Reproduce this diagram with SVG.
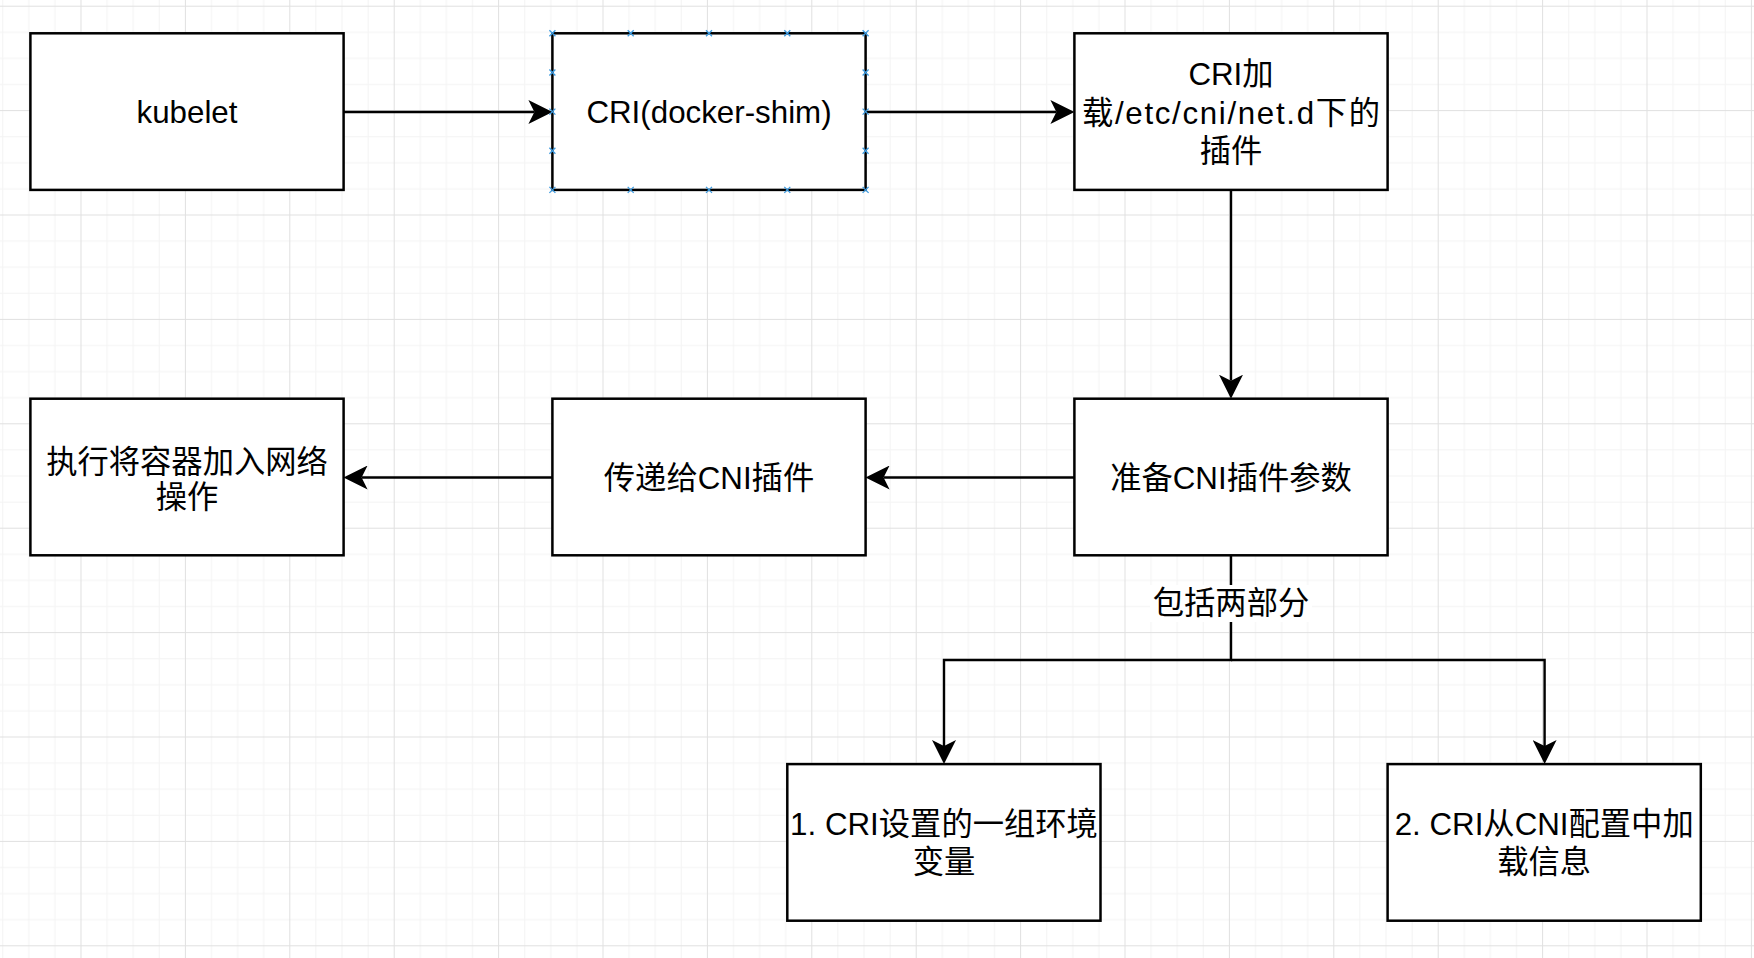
<svg xmlns="http://www.w3.org/2000/svg" xmlns:xlink="http://www.w3.org/1999/xlink" width="1754" height="958" viewBox="0 0 1754 958">
<style>
.box{fill:#ffffff;stroke:#000000;stroke-width:2.5}
.lbl{font-family:"Liberation Sans","Noto Sans CJK SC",sans-serif;font-size:31.3px;fill:#000000;text-anchor:middle}
.edge{fill:none;stroke:#000000;stroke-width:2.4}
.cp{fill:none;stroke:#3d9be0;stroke-width:1.3}
</style>
<defs>
<pattern id="grid" x="80.5" y="5.7" width="104.4" height="104.4" patternUnits="userSpaceOnUse">
<rect x="26.1" y="0" width="1" height="104.4" fill="#f3f3f3"/>
<rect x="52.2" y="0" width="1" height="104.4" fill="#f3f3f3"/>
<rect x="78.3" y="0" width="1" height="104.4" fill="#f3f3f3"/>
<rect x="0" y="26.1" width="104.4" height="1" fill="#f3f3f3"/>
<rect x="0" y="52.2" width="104.4" height="1" fill="#f3f3f3"/>
<rect x="0" y="78.3" width="104.4" height="1" fill="#f3f3f3"/>
<rect x="0" y="0" width="1" height="104.4" fill="#e0e0e0"/>
<rect x="0" y="0" width="104.4" height="1" fill="#e0e0e0"/>
</pattern>
<marker id="arrow" viewBox="0 0 24 24" markerUnits="userSpaceOnUse" markerWidth="24" markerHeight="24" refX="6" refY="12" orient="auto">
<path d="M0,0 L24,12 L0,24 L6,12 Z" fill="#000000"/>
</marker>
<path id="xmark" d="M-3,-3 L3,3 M-3,3 L3,-3"/>
</defs>
<rect x="0" y="0" width="1754" height="958" fill="#ffffff"/>
<rect x="0" y="0" width="1754" height="958" fill="url(#grid)"/>

<g id="connectors">
<line class="edge" x1="343.6" y1="112" x2="534.4" y2="112" marker-end="url(#arrow)"/>
<line class="edge" x1="865.6" y1="112" x2="1056.4" y2="112" marker-end="url(#arrow)"/>
<line class="edge" x1="1231" y1="190.7" x2="1231" y2="380.7" marker-end="url(#arrow)"/>
<line class="edge" x1="1074.4" y1="477.5" x2="883.6" y2="477.5" marker-end="url(#arrow)"/>
<line class="edge" x1="552.4" y1="477.5" x2="361.6" y2="477.5" marker-end="url(#arrow)"/>
<path class="edge" d="M1231,555.3 L1231,660 L944,660 L944,746" marker-end="url(#arrow)"/>
<path class="edge" d="M1231,660 L1544.6,660 L1544.6,746" marker-end="url(#arrow)"/>
<rect x="1150" y="585" width="162" height="37" fill="#ffffff"/>
<text class="lbl" x="1231" y="614">包括两部分</text>
</g>

<g id="kubelet">
<rect class="box" x="30.4" y="33.3" width="313.2" height="156.6"/>
<text class="lbl" x="187" y="123">kubelet</text>
</g>

<g id="cri-docker-shim">
<rect class="box" x="552.4" y="33.3" width="313.2" height="156.6"/>
<text class="lbl" x="709" y="123">CRI(docker-shim)</text>
<g class="cp">
<use xlink:href="#xmark" x="552.4" y="33.3"/>
<use xlink:href="#xmark" x="630.7" y="33.3"/>
<use xlink:href="#xmark" x="709" y="33.3"/>
<use xlink:href="#xmark" x="787.3" y="33.3"/>
<use xlink:href="#xmark" x="865.6" y="33.3"/>
<use xlink:href="#xmark" x="552.4" y="189.9"/>
<use xlink:href="#xmark" x="630.7" y="189.9"/>
<use xlink:href="#xmark" x="709" y="189.9"/>
<use xlink:href="#xmark" x="787.3" y="189.9"/>
<use xlink:href="#xmark" x="865.6" y="189.9"/>
<use xlink:href="#xmark" x="552.4" y="72.5"/>
<use xlink:href="#xmark" x="552.4" y="111.6"/>
<use xlink:href="#xmark" x="552.4" y="150.8"/>
<use xlink:href="#xmark" x="865.6" y="72.5"/>
<use xlink:href="#xmark" x="865.6" y="111.6"/>
<use xlink:href="#xmark" x="865.6" y="150.8"/>
</g>
</g>

<g id="cri-load-plugins">
<rect class="box" x="1074.4" y="33.3" width="313.2" height="156.6"/>
<text class="lbl" x="1231" y="85">CRI加</text>
<text class="lbl" x="1231" y="124" textLength="298" lengthAdjust="spacing">载/etc/cni/net.d下的</text>
<text class="lbl" x="1231" y="162">插件</text>
</g>

<g id="exec-join-network">
<rect class="box" x="30.4" y="398.7" width="313.2" height="156.6"/>
<text class="lbl" x="187" y="472.5">执行将容器加入网络</text>
<text class="lbl" x="187" y="507.5">操作</text>
</g>

<g id="pass-to-cni">
<rect class="box" x="552.4" y="398.7" width="313.2" height="156.6"/>
<text class="lbl" x="709" y="488.5">传递给CNI插件</text>
</g>

<g id="prepare-cni-params">
<rect class="box" x="1074.4" y="398.7" width="313.2" height="156.6"/>
<text class="lbl" x="1231" y="488.5">准备CNI插件参数</text>
</g>

<g id="env-vars">
<rect class="box" x="787.3" y="764.1" width="313.2" height="156.6"/>
<text class="lbl" x="944" y="835">1. CRI设置的一组环境</text>
<text class="lbl" x="944" y="873">变量</text>
</g>

<g id="cni-config">
<rect class="box" x="1387.6" y="764.1" width="313.2" height="156.6"/>
<text class="lbl" x="1544.2" y="835">2. CRI从CNI配置中加</text>
<text class="lbl" x="1544.2" y="873">载信息</text>
</g>
</svg>
